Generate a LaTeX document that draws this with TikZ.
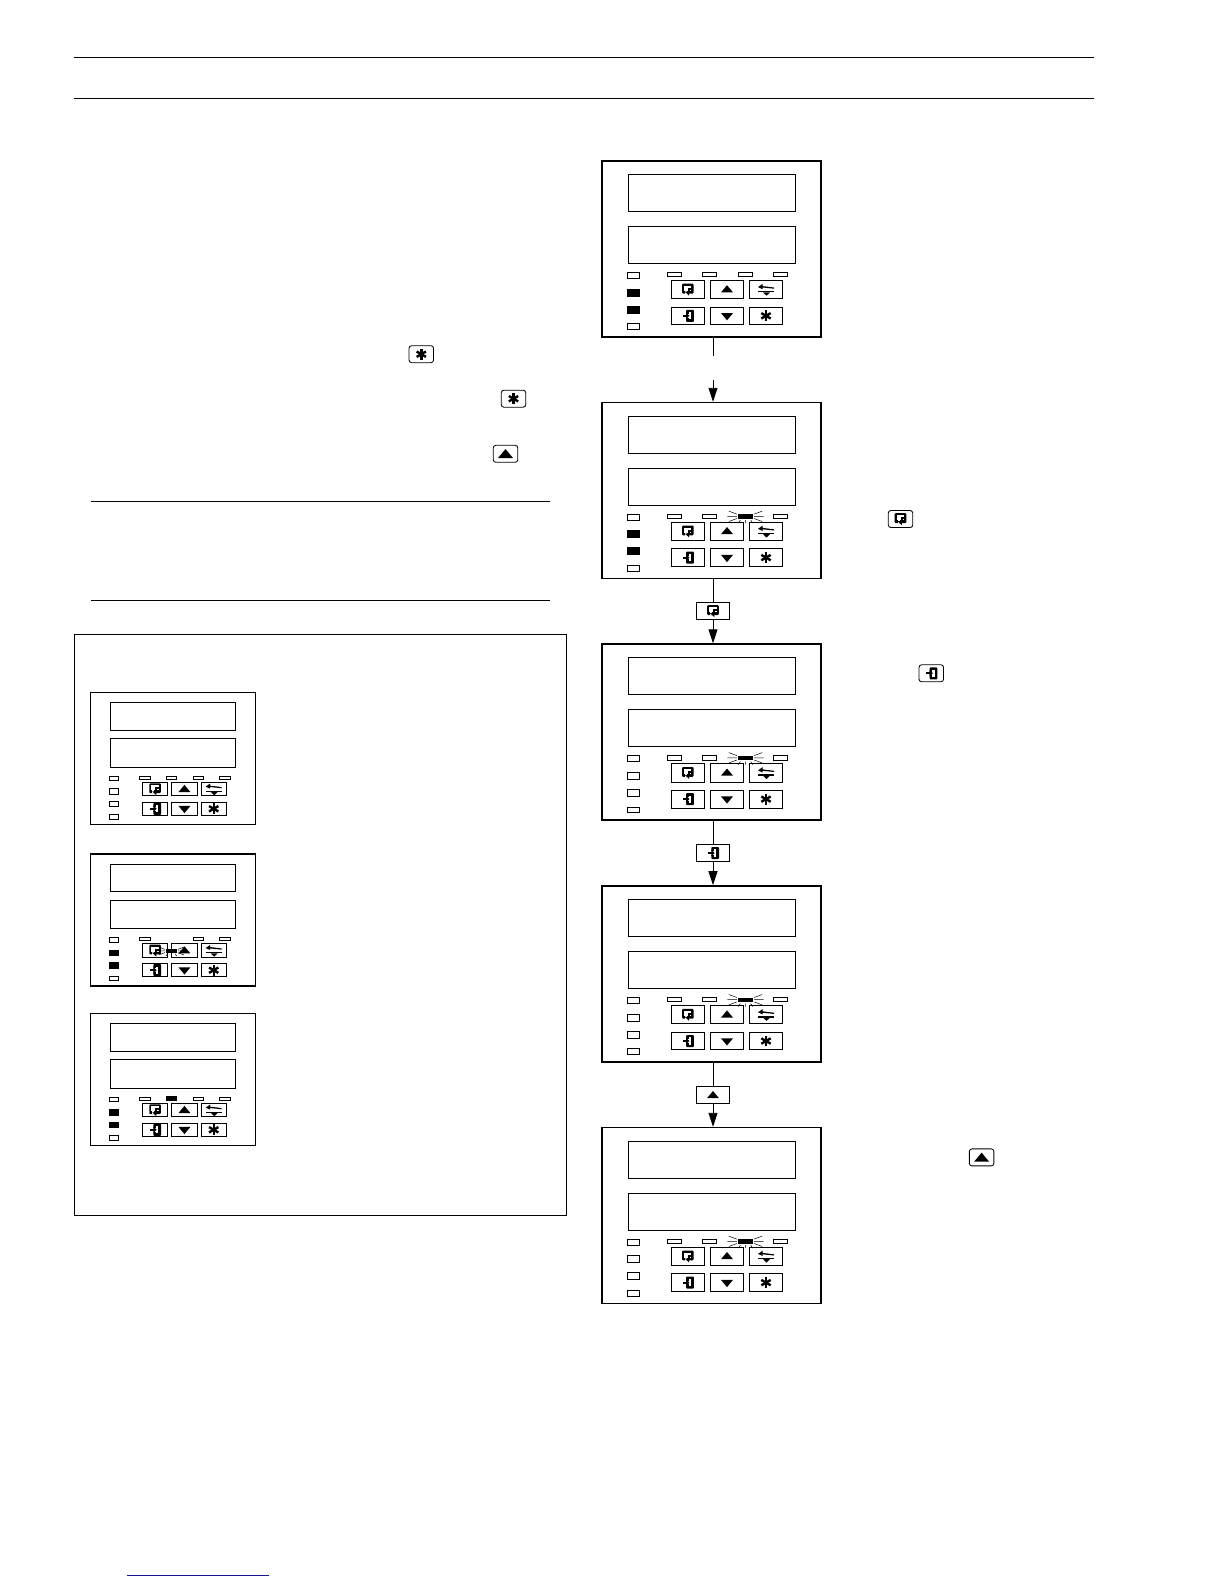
\documentclass[tikz,border=0pt]{standalone}
\usetikzlibrary{arrows.meta}
\definecolor{footblue}{RGB}{20,20,150}
\tikzset{
  frame/.style={draw,line width=1.5pt,fill=white,inner sep=0pt,anchor=north west},
  inner line/.style={draw,line width=0.95pt},
  led/.style={draw,line width=0.85pt},
  rule line/.style={line width=0.9pt},
  conn/.style={line width=0.9pt},
  conna/.style={line width=0.9pt,-{Triangle[length=14pt,width=9pt]}},
  labelbox/.style={draw,line width=0.95pt,fill=white,minimum width=33.4pt,minimum height=17.6pt,inner sep=0pt},
  keybox/.style={draw,line width=0.85pt,rounded corners=2.6pt,fill=white,minimum width=24.5pt,minimum height=17pt,inner sep=0pt},
  outerbox/.style={draw,line width=0.9pt,inner sep=0pt,anchor=north west},
  pics/iconloop/.style={code={
    \fill[rounded corners=1pt] (-5.8,-5.8) rectangle (5.8,4);
    \fill[white] (-3.6,-3.6) rectangle (3.6,1.4);
    \fill (0.2,-1.6) rectangle (3.6,0.4);
    \fill (0.2,-1.6) rectangle (2,3);
    \fill[white] (-3,1.4) rectangle (-0.8,4.2);
    \fill (-3,2.2) -- (1.4,2.2) -- (1.4,3.6) -- (1.4,6.2) -- cycle;
  }},
  pics/iconenter/.style={code={
    \fill[rounded corners=0.8pt] (-1.6,-6) rectangle (6,6);
    \fill[white] (1,-3.6) rectangle (3.4,3.6);
    \fill[white] (-1.8,-1.8) rectangle (1,1.8);
    \fill (-5.2,-0.9) rectangle (-0.5,0.9);
    \fill (-1.6,-3.2) -- (1.6,0) -- (-1.6,3.2) -- cycle;
  }},
  pics/iconup/.style={code={\fill (-6,3.4) -- (6,3.4) -- (0,-3.8) -- cycle;}},
  pics/icondown/.style={code={\fill (-6,-3.4) -- (6,-3.4) -- (0,3.8) -- cycle;}},
  pics/iconstar/.style={code={
    \fill[rotate=0] (-1.2,-5.4) rectangle (1.2,5.4);
    \fill[rotate=60] (-1.2,-5.4) rectangle (1.2,5.4);
    \fill[rotate=120] (-1.2,-5.4) rectangle (1.2,5.4);
  }},
  pics/iconswap/.style={code={
    \fill (-8,-2.4) -- (-3.5,-5.6) -- (-3.5,-3.4) -- (8,-2) -- (8,-0.8) -- (-3.5,-2) -- (-3.5,-0.4) -- cycle;
    \fill (-8,1.6) rectangle (8,2.9);
    \fill (-3,2.9) -- (4,2.9) -- (0.5,6.2) -- cycle;
  }},
}
\newcommand{\boxat}[5]{\draw[#1] (#2,#3) rectangle (#4,#5);}
\newcommand{\ledleft}[1]{%
  \ifcase#1\or\fill (25.3,111.8) rectangle (37.5,118);%
  \or\fill (25.3,128.5) rectangle (37.5,135.5);%
  \or\fill (25.3,145.5) rectangle (37.5,152.5);%
  \or\fill (25.3,163.2) rectangle (37.5,169);\fi}
\newcommand{\flash}[2]{% x left, y top of led
  \begin{scope}[shift={(#1,#2)}]
    \fill (0,0) rectangle (14.4,4.4);
    \draw[line width=0.5pt]
      (-1.5,0) -- (-9.5,-3) (-1.5,2.2) -- (-11,2.2) (-1.5,4.4) -- (-9.5,7.4)
      (2,6) -- (0,9) (12.4,6) -- (14.4,9) (7.2,6) -- (7.2,9)
      (15.9,0) -- (23.9,-3) (15.9,2.2) -- (25.4,2.2) (15.9,4.4) -- (23.9,7.4);
  \end{scope}}
\def\dispr{193.7}\def\dispbt{65.8}\def\dispbb{102.8}
% name, x, y, scale, list of empty top LEDs, extras
\newcommand{\panel}[6]{%
  \node[frame,minimum width=#4*219pt+3pt-#4*3pt,minimum height=#4*176pt] (#1) at (#2-1,#3-0.5) {};
  \begin{scope}[shift={(#2,#3)},scale=#4]
    \boxat{inner line}{26.3}{13.8}{\dispr}{50.8}
    \boxat{inner line}{26.3}{\dispbt}{\dispr}{\dispbb}
    \boxat{led}{25.3}{111.8}{37.5}{118}
    \boxat{led}{25.3}{128.5}{37.5}{135.5}
    \boxat{led}{25.3}{145.5}{37.5}{152.5}
    \boxat{led}{25.3}{163.2}{37.5}{169}
    \foreach \t in {#5} {
      \pgfmathsetmacro{\tx}{{65.3,100.3,136.3,171.3}[\t-1]}
      \boxat{led}{\tx}{111.8}{\tx+14.4}{116.2}
    }
    \boxat{inner line}{69}{119.8}{102.7}{138.2}
    \boxat{inner line}{108.3}{119.8}{141.7}{138.2}
    \boxat{inner line}{147.3}{119.8}{180.7}{138.2}
    \boxat{inner line}{69}{146.5}{102.7}{164.2}
    \boxat{inner line}{108.3}{146.5}{141.7}{164.2}
    \boxat{inner line}{147.3}{146.5}{180.7}{164.2}
    \pic at (85.8,129) {iconloop};
    \pic at (125,128.5) {iconup};
    \pic at (164,129) {iconswap};
    \pic at (85.8,155.3) {iconenter};
    \pic at (125,156) {icondown};
    \pic at (164,155.3) {iconstar};
    #6
  \end{scope}}
\begin{document}
\begin{tikzpicture}[x=1pt,y=-1pt]
\useasboundingbox (0,0) rectangle (1224,1584);
\fill[white] (0,0) rectangle (1224,1584);
% page rules
\coordinate (ra) at (73.7,57.5); \coordinate (rb) at (1094,57.5);
\coordinate (rc) at (73.7,98.5); \coordinate (rd) at (1094,98.5);
\coordinate (re) at (91,501); \coordinate (rf) at (550,501);
\coordinate (rg) at (91,600); \coordinate (rh) at (550,600);
\coordinate (fa) at (127,1575); \coordinate (fb) at (269,1575);
\draw[rule line] (ra) -- (rb);
\draw[rule line] (rc) -- (rd);
\draw[rule line] (re) -- (rf);
\draw[rule line] (rg) -- (rh);
\draw[line width=1pt,footblue] (fa) -- (fb);
% left box
\node[outerbox,minimum width=492pt,minimum height=580.8pt] (leftbox) at (74,634.2) {};
% small panels
\def\dispr{192.7}\def\dispbt{62}\def\dispbb{100}
\panel{s1}{90.7}{692.3}{0.75}{1,2,3,4}{}
\panel{s2}{90.7}{853.7}{0.75}{1,3,4}{\ledleft{2}\ledleft{3}\flash{100.3}{127.5}\fill (100.3,126.5) rectangle (114.7,133);}
\panel{s3}{90.7}{1013.3}{0.75}{1,3,4}{\ledleft{2}\ledleft{3}\fill (100.3,110.8) rectangle (114.7,117);}
% large panels
\def\dispr{193.7}\def\dispbt{65.8}\def\dispbb{102.8}
\panel{p1}{602}{160.5}{1}{1,2,3,4}{\ledleft{2}\ledleft{3}}
\panel{p2}{602}{402.3}{1}{1,2,4}{\ledleft{2}\ledleft{3}\flash{136.3}{111.8}}
\panel{p3}{602}{643.8}{1}{1,2,4}{\flash{136.3}{111.8}}
\panel{p4}{602}{885.7}{1}{1,2,4}{\flash{136.3}{111.8}}
\panel{p5}{602}{1127.3}{1}{1,2,4}{\flash{136.3}{111.8}}
% connectors
\coordinate (gapa) at (713,355.7);
\coordinate (gapb) at (713,380);
\draw[conn] (p1.south -| gapa) -- (gapa);
\draw[conna] (gapb) -- (gapb |- p2.north);
\node[labelbox] (l1) at (713,611) {};
\node[labelbox] (l2) at (713,853) {};
\node[labelbox] (l3) at (713,1094.8) {};
\pic at (l1) {iconloop};
\pic at (l2) {iconenter};
\pic at (l3) {iconup};
\draw[conn] (p2.south -| l1) -- (l1);
\draw[conna] (l1) -- (l1 |- p3.north);
\draw[conn] (p3.south -| l2) -- (l2);
\draw[conna] (l2) -- (l2 |- p4.north);
\draw[conn] (p4.south -| l3) -- (l3);
\draw[conna] (l3) -- (l3 |- p5.north);
% inline keys
\node[keybox] (k1) at (421.3,354.2) {}; \pic at (k1) {iconstar};
\node[keybox] (k2) at (513.5,398.7) {}; \pic at (k2) {iconstar};
\node[keybox] (k3) at (505.5,453.8) {}; \pic[scale=1.25] at (k3) {iconup};
\node[keybox] (k4) at (900.5,519) {}; \pic at (k4) {iconloop};
\node[keybox] (k5) at (931.3,673.3) {}; \pic at (k5) {iconenter};
\node[keybox] (k6) at (981.6,1157.4) {}; \pic[scale=1.25] at (k6) {iconup};
\end{tikzpicture}
\end{document}
